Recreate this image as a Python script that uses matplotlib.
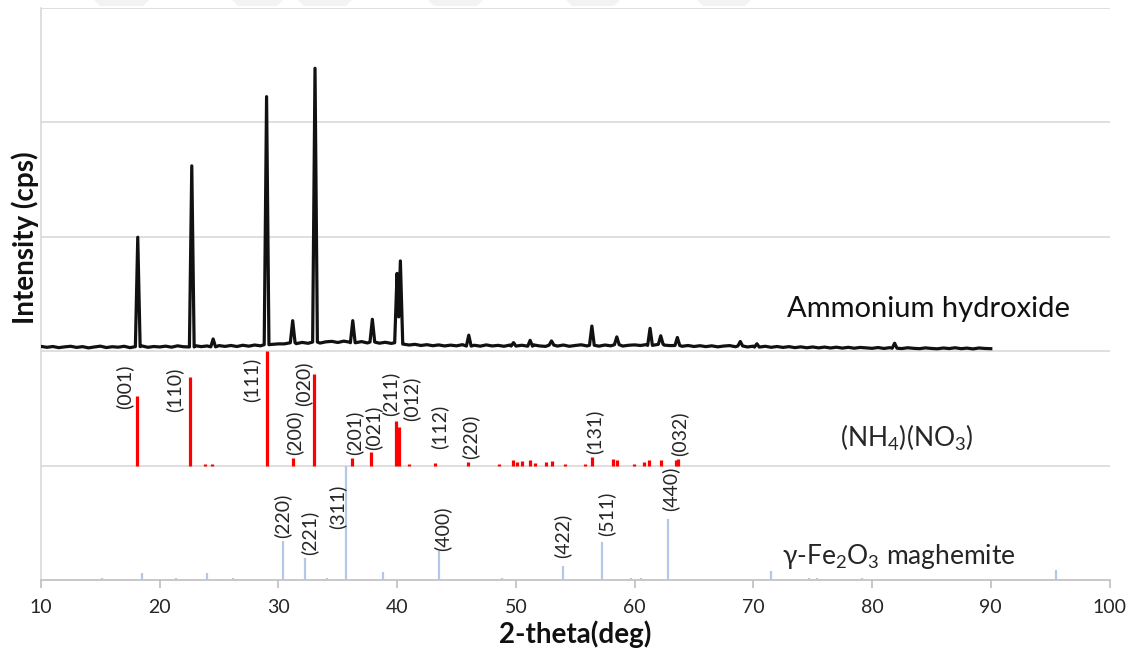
import numpy as np
import matplotlib
matplotlib.use('Agg')
import matplotlib.pyplot as plt
from matplotlib.patches import Polygon

plt.rcParams['font.family'] = ['Lato', 'DejaVu Sans']
plt.rcParams['mathtext.fontset'] = 'custom'
plt.rcParams['mathtext.rm'] = 'Lato'
plt.rcParams['mathtext.default'] = 'rm'

# Measured pattern (cps): background sampled every 0.5 deg from 10 to 90
bg_start, bg_step = 10.0, 0.5
bg_counts = [42, 34, 41, 31, 38, 43, 33, 40, 29, 37,
             44, 32, 39, 35, 43, 31, 40, 46, 34, 41, 37,
             44, 35, 47, 39, 37, 48, 40, 46, 38, 49,
             42, 50, 41, 52, 44, 54, 47, 57, 60, 64,
             64, 74, 66, 77, 69, 80, 71, 82, 86, 76,
             88, 79, 74, 84, 72, 80, 70, 78, 68, 74,
             62, 54, 60, 50, 57, 48, 55, 46, 53, 47,
             57, 45, 52, 44, 55, 46, 51, 43, 54, 45,
             52, 44, 55, 46, 42, 53, 45, 54, 43, 50,
             56, 46, 52, 44, 54, 47, 57, 45, 52, 55,
             50, 58, 51, 60, 53, 49, 50, 43, 50, 41,
             48, 40, 47, 38, 45, 49, 39, 46, 37, 44,
             36, 43, 34, 41, 33, 40, 31, 38, 30, 37,
             29, 36, 28, 35, 27, 34, 26, 33, 29, 25,
             32, 24, 31, 26, 23, 30, 25, 22, 29, 24,
             21, 28, 23, 30, 22, 27, 20, 28, 24, 22]

# Reflections of the sample: position and peak top (cps)
peak_2theta = [18.15, 22.7, 24.5, 29.0, 31.2, 33.08, 36.26, 37.91,
               39.99, 40.27, 46.03, 49.8, 51.2, 53.0, 56.4, 58.5, 61.3,
               62.2, 63.6, 68.9, 70.3, 81.9]
peak_counts = [996, 1620, 107, 2225, 267, 2473, 267, 279,
               680, 789, 140, 75, 95, 90, 220, 125, 200,
               135, 120, 85, 65, 70]
# dip between the two 40 deg reflections
valley_2theta = [40.13]
valley_counts = [300]

# Reference pattern of (NH4)(NO3), relative intensity (%)
nitrate_2theta = [18.06, 22.55, 23.85, 24.4, 29.01, 31.2, 33.0, 36.23, 37.83,
                  39.93, 40.19, 40.98, 43.22, 46.0, 48.61, 49.74, 50.08, 50.5,
                  51.2, 51.62, 52.52, 53.02, 54.14, 55.83, 56.44, 58.21, 58.5,
                  59.98, 60.83, 61.25, 62.21, 63.52, 63.64]
nitrate_rel = [60.6, 77.5, 1.5, 1.5, 100, 7.0, 80.0, 6.7, 11.6,
               38.7, 33.5, 1.5, 2.5, 3.5, 1.7, 4.7, 3.0, 4.0,
               5.2, 2.3, 3.5, 4.0, 1.7, 1.7, 7.6, 5.8, 4.7,
               1.7, 3.0, 4.7, 4.7, 5.0, 5.8]
nitrate_hkl = ['(001)', '(110)', '', '', '(111)', '(200)', '(020)', '(201)', '(021)',
               '(211)', '(012)', '', '(112)', '(220)', '', '', '', '',
               '', '', '', '', '', '', '(131)', '', '',
               '', '', '', '', '', '(032)']

# Reference pattern of maghemite, relative intensity (%)
maghemite_2theta = [15.11, 18.48, 21.37, 23.96, 26.2, 30.36, 32.24, 33.36, 34.07,
                    35.7, 37.38, 38.84, 40.52, 43.56, 48.81, 53.95, 57.26, 59.7,
                    60.52, 62.82, 65.24, 71.47, 74.73, 75.35, 79.19, 87.0, 90.03,
                    92.14, 95.5]
maghemite_rel = [2, 6, 1.5, 6, 2, 34.4, 19.5, 1, 1.5,
                 100, 1, 6.7, 1, 25, 1.5, 12.5, 33.6, 1.5,
                 2, 53.5, 1, 8, 2, 2, 1.5, 1, 1,
                 1, 9]
maghemite_hkl = ['', '', '', '', '', '(220)', '(221)', '', '',
                 '(311)', '', '', '', '(400)', '', '(422)', '(511)', '',
                 '', '(440)', '', '', '', '', '', '', '',
                 '', '']

# label offsets from the stick top, in pixels (default: just above)
nitrate_offsets = {'(001)': (-12, 10), '(110)': (-16, -13), '(111)': (-15, -29),
                   '(020)': (-11, -10), '(211)': (-6, 27), '(012)': (12, 28),
                   '(112)': (4, 36)}
maghemite_offsets = {'(311)': (-9, -41), '(220)': (0, 25), '(221)': (4, 25),
                     '(400)': (3, 23), '(422)': (0, 30), '(511)': (4, 28),
                     '(440)': (2, 30)}

band = 1000  # height of one panel in plot units
label_color = '#262626'

# assemble the measured trace: background plus triangular reflections
bg_2theta = bg_start + bg_step * np.arange(len(bg_counts))
bg_counts = np.array(bg_counts, dtype=float)
half = 0.2
keep = np.ones(len(bg_2theta), dtype=bool)
for p in peak_2theta:
    keep &= np.abs(bg_2theta - p) > half
trace_x = list(bg_2theta[keep])
trace_y = list(bg_counts[keep])
for p, top in zip(peak_2theta, peak_counts):
    base = bg_counts[int(round((p - bg_start) / bg_step))]
    for dx, v in ((-half, base), (0.0, top), (half, base)):
        x = p + dx
        if dx != 0 and any(abs(x - q) < half for q in peak_2theta if q != p):
            continue
        trace_x.append(x)
        trace_y.append(v)
trace_x += valley_2theta
trace_y += valley_counts
order = np.argsort(trace_x)
trace_x = np.array(trace_x)[order]
trace_y = np.array(trace_y)[order]

fig = plt.figure(figsize=(11.38, 6.67), dpi=100)
ax = fig.add_axes([41 / 1138, 87 / 667, 1068.5 / 1138, 572 / 667])

# sample pattern on top panel
ax.plot(trace_x, trace_y + 2 * band, color='#111111', lw=2.3, zorder=3)

# (NH4)(NO3) sticks on middle panel
ax.vlines(nitrate_2theta, band, band + np.array(nitrate_rel) * band / 100,
          color='#ff0000', lw=2.3, zorder=3)
for x, r, hkl in zip(nitrate_2theta, nitrate_rel, nitrate_hkl):
    if hkl:
        off = nitrate_offsets.get(hkl, (2, 25))
        ax.annotate(hkl, (x, band + r * band / 100), xytext=off,
                    textcoords='offset pixels', rotation=90, ha='center',
                    va='center', fontsize=14, color=label_color)

# maghemite sticks on bottom panel
ax.vlines(maghemite_2theta, 0, np.array(maghemite_rel) * band / 100,
          color='#b4c7e7', lw=1.6, zorder=3)
for x, r, hkl in zip(maghemite_2theta, maghemite_rel, maghemite_hkl):
    if hkl:
        off = maghemite_offsets.get(hkl, (2, 25))
        ax.annotate(hkl, (x, r * band / 100), xytext=off,
                    textcoords='offset pixels', rotation=90, ha='center',
                    va='center', fontsize=14, color=label_color)

# panel captions
ax.text(72.85, 2302, 'Ammonium hydroxide', ha='left', va='baseline',
        fontsize=21, color='#111111')
ax.text(82.93, 1166, '(NH$_4$)(NO$_3$)', ha='center', va='baseline',
        fontsize=19, color='#262626')
ax.text(72.4, 137, 'γ-Fe$_2$O$_3$ maghemite', ha='left', va='baseline',
        fontsize=19, color='#262626')

ax.set_xlim(10, 100)
ax.set_ylim(0, 5 * band)
ax.set_xticks(range(10, 101, 10))
ax.set_yticks([band * k for k in range(1, 6)])
ax.tick_params(axis='y', length=0, labelleft=False)
ax.tick_params(axis='x', direction='out', length=6, width=1.2, color='#bfbfbf',
               pad=8, labelsize=14, labelcolor=label_color)
ax.grid(axis='y', color='#d9d9d9', lw=1.2)
ax.set_axisbelow(True)
for side in ('top', 'right'):
    ax.spines[side].set_visible(False)
ax.spines['left'].set_color('#d9d9d9')
ax.spines['left'].set_linewidth(1.2)
ax.spines['bottom'].set_color('#bfbfbf')
ax.spines['bottom'].set_linewidth(1.2)

ax.set_xlabel('2-theta(deg)', fontsize=20, fontweight='bold', labelpad=3,
              color='#111111')
fig.text(25 / 1138, 1 - 238 / 667, 'Intensity (cps)', rotation=90, ha='center',
         va='center', fontsize=20, fontweight='bold', color='#111111')

# faint page marks along the top edge
for x0, x1 in [(94, 149), (232, 283), (298, 352), (428, 483), (566, 620), (697, 751)]:
    pts = [(x0, 0), (x1, 0), (x1 - 6, 6), (x0 + 6, 6)]
    fig.patches.append(Polygon([(px / 1138, 1 - py / 667) for px, py in pts],
                               closed=True, transform=fig.transFigure,
                               facecolor='#f3f3f3', edgecolor='none', zorder=0))

fig.savefig('out.png', dpi=100)
